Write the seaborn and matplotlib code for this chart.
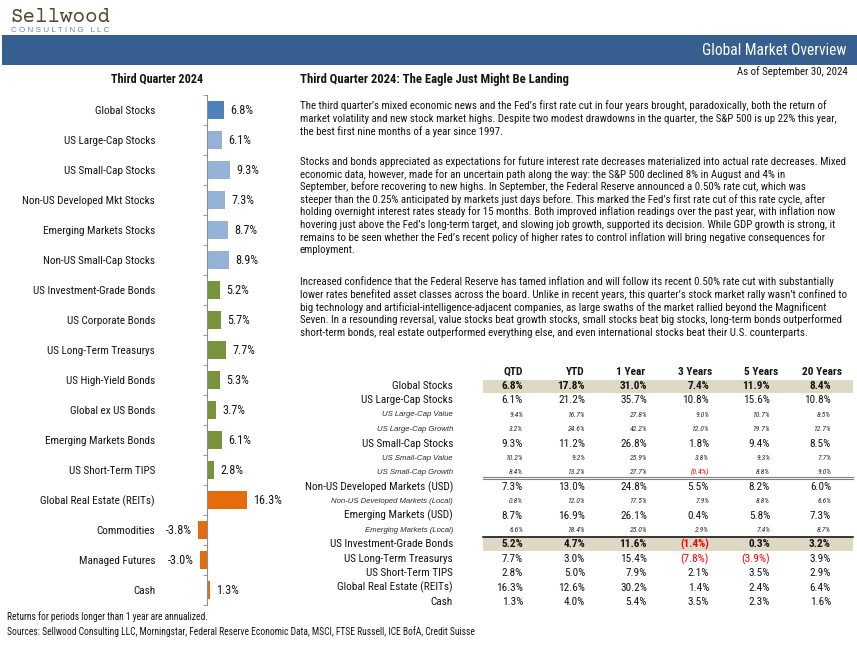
import matplotlib
matplotlib.use('Agg')
import matplotlib.pyplot as plt
from matplotlib import font_manager as fm
from matplotlib.patches import Rectangle
import numpy as np
import seaborn as sns

# ---- data ----
bar_labels = ['Global Stocks', 'US Large-Cap Stocks', 'US Small-Cap Stocks',
              'Non-US Developed Mkt Stocks', 'Emerging Markets Stocks',
              'Non-US Small-Cap Stocks', 'US Investment-Grade Bonds',
              'US Corporate Bonds', 'US Long-Term Treasurys', 'US High-Yield Bonds',
              'Global ex US Bonds', 'Emerging Markets Bonds', 'US Short-Term TIPS',
              'Global Real Estate (REITs)', 'Commodities', 'Managed Futures', 'Cash']
bar_qtd = [6.8, 6.1, 9.3, 7.3, 8.7, 8.9, 5.2, 5.7, 7.7, 5.3, 3.7, 6.1, 2.8,
           16.3, -3.8, -3.0, 1.3]
bar_group = ['global'] + ['stocks'] * 5 + ['bonds'] * 7 + ['real'] * 4

table_rows = ['Global Stocks', 'US Large-Cap Stocks', 'US Large-Cap Value',
              'US Large-Cap Growth', 'US Small-Cap Stocks', 'US Small-Cap Value',
              'US Small-Cap Growth', 'Non-US Developed Markets (USD)',
              'Non-US Developed Markets (Local)', 'Emerging Markets (USD)',
              'Emerging Markets (Local)', 'US Investment-Grade Bonds',
              'US Long-Term Treasurys', 'US Short-Term TIPS',
              'Global Real Estate (REITs)', 'Cash']
qtd = [6.8, 6.1, 9.4, 3.2, 9.3, 10.2, 8.4, 7.3, 0.8, 8.7, 6.6, 5.2, 7.7, 2.8, 16.3, 1.3]
ytd = [17.8, 21.2, 16.7, 24.6, 11.2, 9.2, 13.2, 13.0, 12.0, 16.9, 18.4, 4.7, 3.0, 5.0, 12.6, 4.0]
one_year = [31.0, 35.7, 27.8, 42.2, 26.8, 25.9, 27.7, 24.8, 17.5, 26.1, 25.0, 11.6, 15.4, 7.9, 30.2, 5.4]
three_years = [7.4, 10.8, 9.0, 12.0, 1.8, 3.8, -0.4, 5.5, 7.9, 0.4, 2.9, -1.4, -7.8, 2.1, 1.4, 3.5]
five_years = [11.9, 15.6, 10.7, 19.7, 9.4, 9.3, 8.8, 8.2, 8.8, 5.8, 7.4, 0.3, -3.9, 3.5, 2.4, 2.3]
twenty_years = [8.4, 10.8, 8.5, 12.7, 8.5, 7.7, 9.0, 6.0, 6.6, 7.3, 8.7, 3.2, 3.9, 2.9, 6.4, 1.6]
col_headers = ['QTD', 'YTD', '1 Year', '3 Years', '5 Years', '20 Years']
sub_rows = {'US Large-Cap Value', 'US Large-Cap Growth', 'US Small-Cap Value',
            'US Small-Cap Growth', 'Non-US Developed Markets (Local)',
            'Emerging Markets (Local)'}
highlight_rows = {'Global Stocks', 'US Investment-Grade Bonds'}

title = 'Third Quarter 2024: The Eagle Just Might Be Landing'
paragraphs = [
    ["The third quarter\u2019s mixed economic news and the Fed\u2019s first rate cut in four years brought, paradoxically, both the return of",
     "market volatility and new stock market highs. Despite two modest drawdowns in the quarter, the S&P 500 is up 22% this year,",
     "the best first nine months of a year since 1997."],
    ["Stocks and bonds appreciated as expectations for future interest rate decreases materialized into actual rate decreases. Mixed",
     "economic data, however, made for an uncertain path along the way: the S&P 500 declined 8% in August and 4% in",
     "September, before recovering to new highs. In September, the Federal Reserve announced a 0.50% rate cut, which was",
     "steeper than the 0.25% anticipated by markets just days before. This marked the Fed\u2019s first rate cut of this rate cycle, after",
     "holding overnight interest rates steady for 15 months. Both improved inflation readings over the past year, with inflation now",
     "hovering just above the Fed\u2019s long-term target, and slowing job growth, supported its decision. While GDP growth is strong, it",
     "remains to be seen whether the Fed\u2019s recent policy of higher rates to control inflation will bring negative consequences for",
     "employment."],
    ["Increased confidence that the Federal Reserve has tamed inflation and will follow its recent 0.50% rate cut with substantially",
     "lower rates benefited asset classes across the board. Unlike in recent years, this quarter\u2019s stock market rally wasn\u2019t confined to",
     "big technology and artificial-intelligence-adjacent companies, as large swaths of the market rallied beyond the Magnificent",
     "Seven. In a resounding reversal, value stocks beat growth stocks, small stocks beat big stocks, long-term bonds outperformed",
     "short-term bonds, real estate outperformed everything else, and even international stocks beat their U.S. counterparts."],
]
footnotes = ['Returns for periods longer than 1 year are annualized.',
             'Sources: Sellwood Consulting LLC, Morningstar, Federal Reserve Economic Data, MSCI, FTSE Russell, ICE BofA, Credit Suisse']

# ---- fonts: pick an Arial Narrow look-alike among the installed ones ----
weights = {}
for f in fm.fontManager.ttflist:
    w = f.weight if isinstance(f.weight, int) else (700 if 'bold' in str(f.weight) else 400)
    weights.setdefault(f.name, set()).add(w)
narrow_pref = ['Liberation Sans Narrow', 'Arial Narrow', 'Nimbus Sans Narrow',
               'Roboto Condensed', 'PT Sans Narrow', 'Archivo Narrow',
               'Fira Sans Condensed', 'IBM Plex Sans Condensed']
REG = next((n for n in narrow_pref if n in weights), 'Liberation Sans')
BOLD = next((n for n in narrow_pref if n in weights and max(weights[n]) >= 700),
            'Liberation Sans')
plt.rcParams['font.family'] = [REG, 'Liberation Sans', 'DejaVu Sans']
BOLD_FAM = [BOLD, 'Liberation Sans', 'DejaVu Sans']
ITAL_FAM = ['Liberation Sans', 'DejaVu Sans']
TXT = '#151515'
group_colors = {'global': '#4f81bd', 'stocks': '#95b3d7', 'bonds': '#77933c', 'real': '#e46c0a'}

W, H = 857, 651
fig = plt.figure(figsize=(W / 100, H / 100), dpi=100)
ov = fig.add_axes([0, 0, 1, 1])
ov.set_xlim(0, W)
ov.set_ylim(H, 0)
ov.axis('off')
renderer = fig.canvas.get_renderer()


def fit(text, width_px, **kw):
    # font size that makes `text` about width_px pixels wide
    t = ov.text(0, 0, text, fontsize=10, **kw)
    w = t.get_window_extent(renderer).width
    t.remove()
    return 10 * width_px / w


# logo
mono = ['Courier Prime', 'Liberation Mono', 'DejaVu Sans Mono']
ov.text(10, 22.5, 'Sellwood', fontsize=fit('Sellwood', 101, family=mono),
        family=mono, color='#54452f', va='baseline')
logo_sub = 'C O N S U L T I N G   L L C'
ov.text(11, 32, logo_sub, family='Liberation Sans', color='#5b8db3',
        fontsize=fit(logo_sub, 99, family='Liberation Sans'), va='baseline')

# header bar
ov.add_patch(Rectangle((2, 35), W - 2, 30, color='#365e8e', lw=0))
s = 'Global Market Overview'
ov.text(847, 50.5, s, color='white', fontsize=fit(s, 144), ha='right', va='center')
s = 'As of September 30, 2024'
ov.text(848, 72, s, color=TXT, fontsize=fit(s, 110), ha='right', va='center')
s = 'Third Quarter 2024'
ov.text(157, 79, s, color=TXT, fontsize=fit(s, 93, weight='bold', family=BOLD_FAM),
        weight='bold', family=BOLD_FAM, ha='center', va='center')

# ---- left bar chart ----
px_per, zero_px = 2.45, 207
ax_l, ax_r, ax_t, ax_b = 185, 292, 95, 605
ax = fig.add_axes([ax_l / W, 1 - ax_b / H, (ax_r - ax_l) / W, (ax_b - ax_t) / H])
ax.patch.set_alpha(0)
pal = {lab: group_colors[g] for lab, g in zip(bar_labels, bar_group)}
sns.barplot(x=bar_qtd, y=bar_labels, hue=bar_labels, palette=pal, legend=False,
            orient='h', width=0.6, saturation=1, ax=ax)
n = len(bar_labels)
ax.set_xlim((ax_l - zero_px) / px_per, (ax_r - zero_px) / px_per)
ax.set_ylim(n - 0.5, -0.5)
for sp in ['top', 'right', 'bottom']:
    ax.spines[sp].set_visible(False)
ax.spines['left'].set_position(('data', 0))
ax.spines['left'].set_color('#8c8c8c')
ax.xaxis.set_visible(False)
ax.set_ylabel('')
lab_size = fit('Non-US Developed Mkt Stocks', 132)
ax.set_yticks(range(n))
ax.set_yticklabels(bar_labels, fontsize=lab_size, color=TXT)
ax.tick_params(axis='y', which='major', length=0, pad=37.4)
ax.set_yticks(np.arange(-0.5, n, 1), minor=True)
ax.tick_params(axis='y', which='minor', length=3, color='#8c8c8c', direction='out')
val_size = fit('16.3%', 28.5)
for i, v in enumerate(bar_qtd):
    ax.annotate(f'{v:.1f}%', xy=(v, i), xytext=(4.5 if v >= 0 else -4.5, 0),
                textcoords='offset points', ha='left' if v >= 0 else 'right',
                va='center', fontsize=val_size, color=TXT)

foot_size = fit(footnotes[1], 468)
for k, line in enumerate(footnotes):
    ov.text(7, 617 + 15 * k, line, fontsize=foot_size, color=TXT, va='center')

# ---- commentary ----
ov.text(300, 79, title, fontsize=fit(title, 268, weight='bold', family=BOLD_FAM),
        weight='bold', family=BOLD_FAM, color=TXT, va='center')
para_size = fit(paragraphs[1][0], 542)
para_tops = [106, 161.5, 282]
for top, lines in zip(para_tops, paragraphs):
    for k, line in enumerate(lines):
        ov.text(300, top + 12.6 * k, line, fontsize=para_size, color=TXT, va='center')

# ---- table ----
row0, row_h = 386, 14.4
col_right = [523, 585, 647, 709, 770, 831]
head_right = [523, 585, 645, 712, 778, 842]
for name in highlight_rows:
    k = table_rows.index(name)
    ov.add_patch(Rectangle((483, row0 + row_h * k - 6.5), 370, 13.5,
                           color='#ddd9c4', lw=0))
k = table_rows.index('Non-US Developed Markets (USD)')
for dy in (-9.4, -7.4):
    ov.plot([483, 853], [row0 + row_h * k + dy] * 2, color='#7f7f7f', lw=0.8)
k = table_rows.index('US Investment-Grade Bonds')
ov.plot([483, 853], [row0 + row_h * k - 7.2] * 2, color='black', lw=1.1)

head_size = fit('20 Years', 40, weight='bold', family=BOLD_FAM)
for x, h in zip(head_right, col_headers):
    ov.text(x, row0 - row_h, h, fontsize=head_size, weight='bold', family=BOLD_FAM,
            color=TXT, ha='right', va='center')

row_lab = fit('Non-US Developed Markets (USD)', 148)
row_val = fit('17.8%', 26.7)
sub_lab = fit('Non-US Developed Markets (Local)', 123, style='italic', family=ITAL_FAM)
sub_val = fit('27.8%', 17.5, style='italic')
columns = [qtd, ytd, one_year, three_years, five_years, twenty_years]
for k, name in enumerate(table_rows):
    y = row0 + row_h * k
    if name in sub_rows:
        lab_kw = dict(fontsize=sub_lab, style='italic', family=ITAL_FAM, color='#2b2b2b')
        val_kw = dict(fontsize=sub_val, style='italic', color='#2b2b2b')
    elif name in highlight_rows:
        lab_kw = dict(fontsize=row_lab, color=TXT)
        val_kw = dict(fontsize=row_val, color=TXT, weight='bold', family=BOLD_FAM)
    else:
        lab_kw = dict(fontsize=row_lab, color=TXT)
        val_kw = dict(fontsize=row_val, color=TXT)
    ov.text(453, y, name, ha='right', va='center', **lab_kw)
    for x, col in zip(col_right, columns):
        v = col[k]
        kw = dict(val_kw)
        if v < 0:
            txt = f'({abs(v):.1f}%)'
            kw['color'] = '#ff0000'
        else:
            txt = f'{v:.1f}%'
        ov.text(x, y, txt, ha='right', va='center', **kw)

fig.savefig('out.png', dpi=100)
